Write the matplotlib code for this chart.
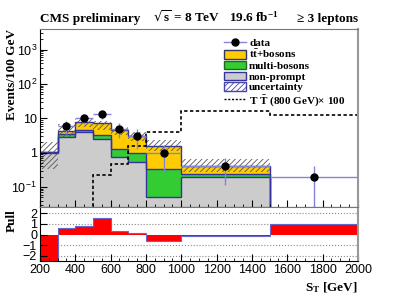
import matplotlib
matplotlib.use('Agg')
import matplotlib.pyplot as plt
import numpy as np
from matplotlib.patches import Patch
from matplotlib.lines import Line2D
from matplotlib.ticker import MultipleLocator, FixedLocator, FixedFormatter, LogLocator, NullFormatter

plt.rcParams['mathtext.default'] = 'regular'
plt.rcParams['hatch.linewidth'] = 0.6

# binning (GeV) and contents, events per 100 GeV
edges = np.array([200, 300, 400, 500, 600, 700, 800, 1000, 1500, 2000])
nonprompt = np.array([1.0, 2.9, 4.0, 2.5, 0.77, 0.54, 0.05, 0.197, 0.0])
multibosons = np.array([0.03, 0.56, 0.6, 0.7, 0.49, 0.41, 0.28, 0.04, 0.0])
ttbosons = np.array([0.03, 0.84, 3.0, 3.9, 3.24, 2.05, 1.25, 0.17, 0.0])
unc_lo = np.array([0.33, 2.6, 5.5, 4.5, 3.3, 2.2, 1.1, 0.28, 0.0])
unc_hi = np.array([2.0, 7.0, 9.8, 8.5, 5.5, 3.9, 2.3, 0.65, 0.0])
signal = np.array([0, 0, 0, 0.22, 0.47, 1.6, 3.9, 16.5, 12.3])
data_counts = np.array([0, 6, 10, 13, 5, 3, 2, 2, 1])
pull = np.array([-2.8, 0.6, 0.8, 1.56, 0.33, 0.14, -0.6, -0.14, 0.98])

serif = ['Liberation Serif', 'DejaVu Serif']
sans = ['Liberation Sans', 'DejaVu Sans']
blue = '#3333a0'
errc = '#8484d8'

fig = plt.figure(figsize=(3.99, 2.97), dpi=100)
ax = fig.add_axes([0.100, 0.303, 0.797, 0.599])
ax2 = fig.add_axes([0.100, 0.121, 0.797, 0.182], sharex=ax)

ymin, ymax = 0.026, 4000
base = 1e-4
c1 = nonprompt
c2 = c1 + multibosons
c3 = c2 + ttbosons

# stack
ax.stairs(np.where(c1 > 0, c1, base), edges, baseline=base, fill=True, color='#cccccc', lw=0)
ax.stairs(np.where(c2 > 0, c2, base), edges, baseline=np.where(c1 > 0, c1, base), fill=True, color='#33cc33', lw=0)
ax.stairs(np.where(c3 > 0, c3, base), edges, baseline=np.where(c2 > 0, c2, base), fill=True, color='#ffcc00', lw=0)
for c in (c1, c2, c3):
    ax.stairs(np.where(c > 0, c, base), edges, baseline=None, color=blue, lw=1)
# uncertainty band
ax.stairs(np.where(unc_hi > 0, unc_hi, base), edges, baseline=np.where(unc_lo > 0, unc_lo, base),
          fill=True, facecolor='none', edgecolor='#555555', hatch='//////', lw=0)

# signal x100
ax.stairs(np.where(signal > 0, signal, ymin * 0.01), edges, baseline=None, color='k',
          ls=(0, (2, 1.5)), lw=1.2)

# data
widths = np.diff(edges) / 100.0
centers = 0.5 * (edges[1:] + edges[:-1])
yd = data_counts / widths
err = np.sqrt(data_counts) / widths
lo = np.minimum(err, yd * 0.9999)
m = data_counts > 0
ax.errorbar(centers[m], yd[m], xerr=np.diff(edges)[m] / 2, yerr=[lo[m], err[m]], fmt='o',
            color=errc, mfc='k', mec='k', ms=5, lw=1, capsize=0)

ax.set_yscale('log')
ax.set_ylim(ymin, ymax)
ax.set_xlim(200, 2000)
ax.yaxis.set_major_locator(FixedLocator([0.1, 1, 10, 100, 1000]))
ax.yaxis.set_major_formatter(FixedFormatter(['10$^{-1}$', '1', '10', '10$^2$', '10$^3$']))
ax.yaxis.set_minor_locator(LogLocator(subs=np.arange(2, 10)))
ax.yaxis.set_minor_formatter(NullFormatter())
ax.xaxis.set_major_locator(MultipleLocator(200))
ax.xaxis.set_minor_locator(MultipleLocator(50))
for a in (ax, ax2):
    a.tick_params(which='both', direction='in', top=False, right=False)
    a.tick_params(which='major', length=5)
    a.tick_params(which='minor', length=2.5)
    a.spines['right'].set_color('#999999')
    a.spines['right'].set_linewidth(1.5)
    a.spines['top'].set_color('#777777')
ax.tick_params(labelbottom=False, pad=2)

# pull panel
ax2.stairs(pull, edges, baseline=0, fill=True, color='red', lw=0)
ax2.stairs(pull, edges, baseline=None, color='#6666cc', lw=0.8)
for g in (-2, -1, 1, 2):
    ax2.axhline(g, color='#888888', ls=':', lw=0.8, zorder=0)
ax2.set_ylim(-2.5, 2.6)
ax2.set_yticks([-2, -1, 0, 1, 2])
ax2.tick_params(pad=2)
for a in (ax, ax2):
    for lab in a.get_xticklabels() + a.get_yticklabels():
        lab.set_family(sans)
        lab.set_fontsize(9)

# texts
tkw = dict(family=serif, fontweight='bold', fontsize=9.5, va='baseline')
fig.text(40 / 399, 1 - 22 / 297, 'CMS preliminary', **tkw)
fig.text(153 / 399, 1 - 22 / 297, r'$\sqrt{s}$ = 8 TeV', **tkw)
fig.text(229 / 399, 1 - 22 / 297, r'19.6 fb$^{-1}$', **tkw)
fig.text(358 / 399, 1 - 22 / 297, '\u2265 3 leptons', ha='right', **tkw)
fig.text(12 / 399, 1 - 29 / 297, 'Events/100 GeV', rotation=90, ha='center', va='top',
         family=serif, fontweight='bold', fontsize=9.5)
fig.text(12 / 399, 1 - 209 / 297, 'Pull', rotation=90, ha='center', va='top',
         family=serif, fontweight='bold', fontsize=9.5)
fig.text(358 / 399, 1 - 291 / 297, 'S$_T$ [GeV]', ha='right', va='baseline',
         family=serif, fontweight='bold', fontsize=9.5)

handles = [
    Line2D([], [], color=errc, marker='o', mfc='k', mec='k', ms=5, lw=1),
    Patch(facecolor='#ffcc00', edgecolor='#333366'),
    Patch(facecolor='#33cc33', edgecolor='#226622'),
    Patch(facecolor='#cccccc', edgecolor=blue),
    Patch(facecolor='white', edgecolor='#4444aa', hatch='//////'),
    Line2D([], [], color='k', ls=(0, (1.5, 1.2)), lw=1),
]
labels = ['data', r'$t\bar{t}$+bosons', 'multi-bosons', 'non-prompt', 'uncertainty',
          r'T $\bar{T}$ (800 GeV)$\times$ 100']
fig.legend(handles, labels, loc='upper left', bbox_to_anchor=(218 / 399, 1 - 32 / 297),
           frameon=False, borderpad=0, labelspacing=0.05, handlelength=2.0, handleheight=0.8,
           handletextpad=0.3, prop={'family': serif, 'weight': 'bold', 'size': 8})

fig.savefig('out.png', dpi=100)
